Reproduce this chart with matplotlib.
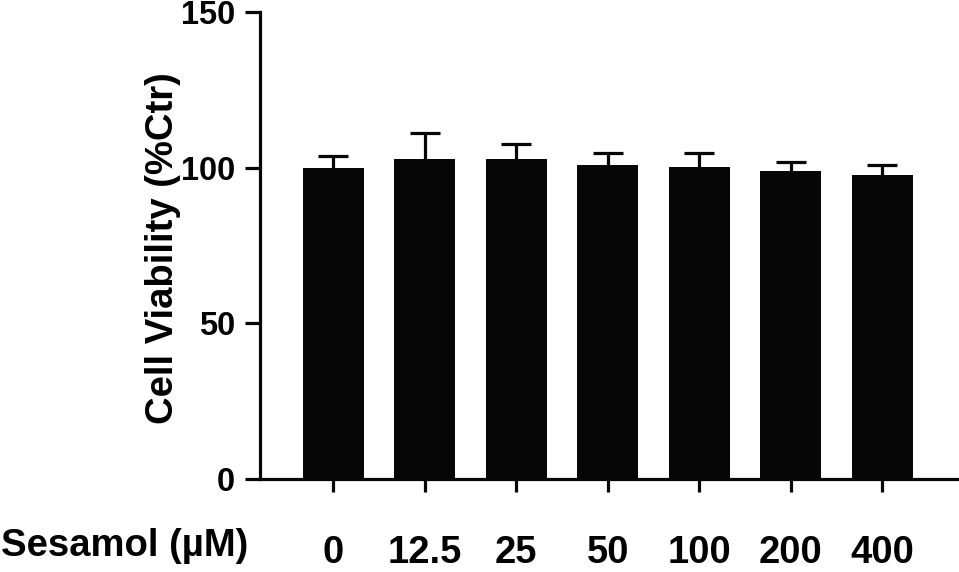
import matplotlib
matplotlib.use("Agg")
import matplotlib.pyplot as plt
import numpy as np

# Sesamol dose-response, cell viability (% of control), mean + SD
doses = ["0", "12.5", "25", "50", "100", "200", "400"]
viability = [99.8, 102.9, 102.9, 101.0, 100.3, 99.0, 97.8]
viability_sd = [3.9, 8.1, 4.6, 3.8, 4.4, 2.8, 3.2]

plt.rcParams["font.family"] = ["Liberation Sans", "DejaVu Sans"]
plt.rcParams["font.weight"] = "bold"

BAR = "#060606"
LW = 2.3

fig = plt.figure(figsize=(9.59, 5.72), dpi=100)
ax = fig.add_axes([0.2711, 0.1626, 0.7289, 0.8164])

x = np.arange(len(doses))
ax.bar(x, viability, width=0.667, color=BAR, zorder=3)
eb = ax.errorbar(x, viability, yerr=[np.zeros(len(doses)), viability_sd],
                 fmt="none", ecolor=BAR, elinewidth=LW, capsize=10.5,
                 capthick=LW, zorder=2)
eb[1][0].set_visible(False)  # lower caps sit on the bar top, hide them

ax.set_xlim(-0.80, 6.84)
ax.set_ylim(0, 150)
ax.set_yticks([0, 50, 100, 150])
ax.set_xticks(x)
ax.set_xticklabels(doses)

for side in ("top", "right"):
    ax.spines[side].set_visible(False)
for side in ("left", "bottom"):
    ax.spines[side].set_linewidth(LW)
    ax.spines[side].set_color(BAR)

ax.tick_params(axis="y", length=11, width=LW, pad=7, labelsize=23.5, color=BAR)
ax.tick_params(axis="x", length=9, width=LW, pad=31, labelsize=27.5, color=BAR)
for lab in ax.get_xticklabels() + ax.get_yticklabels():
    lab.set_fontweight("bold")

fig.text(163 / 959, 1 - 248 / 572, "Cell Viability (%Ctr)", rotation=90,
         ha="center", va="center", fontsize=27.5, fontweight="bold")
fig.text(1 / 959, 1 - 546 / 572, "Sesamol (\u00b5M)", ha="left", va="center",
         fontsize=27.5, fontweight="bold")

fig.savefig("out.png", dpi=100)
